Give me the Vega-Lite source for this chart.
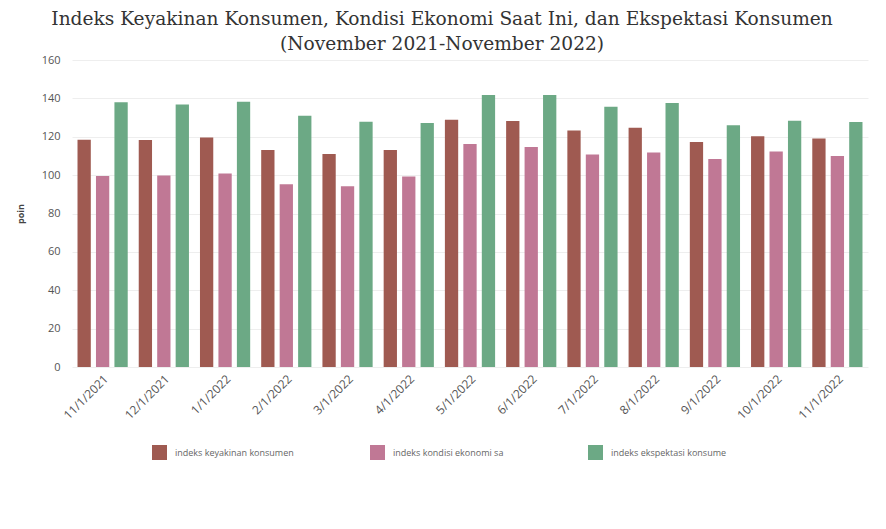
{
  "$schema": "https://vega.github.io/schema/vega-lite/v6.json",
  "width": 796,
  "height": 307,
  "padding": {"left": 16, "right": 10, "top": 10, "bottom": 5},
  "background": "white",
  "title": {
    "text": ["Indeks Keyakinan Konsumen, Kondisi Ekonomi Saat Ini, dan Ekspektasi Konsumen", "(November 2021-November 2022)"],
    "font": "DejaVu Serif",
    "fontSize": 18.6,
    "fontWeight": "normal",
    "color": "#333333",
    "lineHeight": 25,
    "offset": 0,
    "anchor": "middle",
    "frame": "bounds"
  },
  "data": {
    "values": [
      {"bulan": "11/1/2021", "seri": "indeks keyakinan konsumen", "nilai": 118.5},
      {"bulan": "11/1/2021", "seri": "indeks kondisi ekonomi sa", "nilai": 99.5},
      {"bulan": "11/1/2021", "seri": "indeks ekspektasi konsume", "nilai": 138.0},
      {"bulan": "12/1/2021", "seri": "indeks keyakinan konsumen", "nilai": 118.3},
      {"bulan": "12/1/2021", "seri": "indeks kondisi ekonomi sa", "nilai": 99.8},
      {"bulan": "12/1/2021", "seri": "indeks ekspektasi konsume", "nilai": 136.8},
      {"bulan": "1/1/2022", "seri": "indeks keyakinan konsumen", "nilai": 119.6},
      {"bulan": "1/1/2022", "seri": "indeks kondisi ekonomi sa", "nilai": 100.8},
      {"bulan": "1/1/2022", "seri": "indeks ekspektasi konsume", "nilai": 138.3},
      {"bulan": "2/1/2022", "seri": "indeks keyakinan konsumen", "nilai": 113.1},
      {"bulan": "2/1/2022", "seri": "indeks kondisi ekonomi sa", "nilai": 95.3},
      {"bulan": "2/1/2022", "seri": "indeks ekspektasi konsume", "nilai": 130.9},
      {"bulan": "3/1/2022", "seri": "indeks keyakinan konsumen", "nilai": 111.0},
      {"bulan": "3/1/2022", "seri": "indeks kondisi ekonomi sa", "nilai": 94.2},
      {"bulan": "3/1/2022", "seri": "indeks ekspektasi konsume", "nilai": 127.8},
      {"bulan": "4/1/2022", "seri": "indeks keyakinan konsumen", "nilai": 113.1},
      {"bulan": "4/1/2022", "seri": "indeks kondisi ekonomi sa", "nilai": 99.3},
      {"bulan": "4/1/2022", "seri": "indeks ekspektasi konsume", "nilai": 127.2},
      {"bulan": "5/1/2022", "seri": "indeks keyakinan konsumen", "nilai": 128.9},
      {"bulan": "5/1/2022", "seri": "indeks kondisi ekonomi sa", "nilai": 116.2},
      {"bulan": "5/1/2022", "seri": "indeks ekspektasi konsume", "nilai": 141.7},
      {"bulan": "6/1/2022", "seri": "indeks keyakinan konsumen", "nilai": 128.2},
      {"bulan": "6/1/2022", "seri": "indeks kondisi ekonomi sa", "nilai": 114.7},
      {"bulan": "6/1/2022", "seri": "indeks ekspektasi konsume", "nilai": 141.7},
      {"bulan": "7/1/2022", "seri": "indeks keyakinan konsumen", "nilai": 123.2},
      {"bulan": "7/1/2022", "seri": "indeks kondisi ekonomi sa", "nilai": 110.7},
      {"bulan": "7/1/2022", "seri": "indeks ekspektasi konsume", "nilai": 135.7},
      {"bulan": "8/1/2022", "seri": "indeks keyakinan konsumen", "nilai": 124.7},
      {"bulan": "8/1/2022", "seri": "indeks kondisi ekonomi sa", "nilai": 111.8},
      {"bulan": "8/1/2022", "seri": "indeks ekspektasi konsume", "nilai": 137.6},
      {"bulan": "9/1/2022", "seri": "indeks keyakinan konsumen", "nilai": 117.2},
      {"bulan": "9/1/2022", "seri": "indeks kondisi ekonomi sa", "nilai": 108.4},
      {"bulan": "9/1/2022", "seri": "indeks ekspektasi konsume", "nilai": 126.0},
      {"bulan": "10/1/2022", "seri": "indeks keyakinan konsumen", "nilai": 120.3},
      {"bulan": "10/1/2022", "seri": "indeks kondisi ekonomi sa", "nilai": 112.3},
      {"bulan": "10/1/2022", "seri": "indeks ekspektasi konsume", "nilai": 128.4},
      {"bulan": "11/1/2022", "seri": "indeks keyakinan konsumen", "nilai": 119.1},
      {"bulan": "11/1/2022", "seri": "indeks kondisi ekonomi sa", "nilai": 110.0},
      {"bulan": "11/1/2022", "seri": "indeks ekspektasi konsume", "nilai": 127.7}
    ]
  },
  "mark": {"type": "bar"},
  "encoding": {
    "x": {
      "field": "bulan",
      "type": "nominal",
      "sort": null,
      "scale": {"paddingInner": 0.18, "paddingOuter": 0.09},
      "axis": {
        "title": null,
        "labelAngle": -45,
        "labelFont": "Open Sans",
        "labelFontSize": 12,
        "labelColor": "#555555",
        "ticks": false,
        "domain": false,
        "labelPadding": 6
      }
    },
    "xOffset": {
      "field": "seri",
      "type": "nominal",
      "sort": ["indeks keyakinan konsumen", "indeks kondisi ekonomi sa", "indeks ekspektasi konsume"],
      "scale": {"paddingInner": 0.28, "paddingOuter": 0}
    },
    "y": {
      "field": "nilai",
      "type": "quantitative",
      "scale": {"domain": [0, 160]},
      "axis": {
        "title": "poin",
        "titleFont": "Open Sans",
        "titleFontSize": 9,
        "titleFontWeight": "bold",
        "titleColor": "#444444",
        "titlePadding": 16,
        "values": [0, 20, 40, 60, 80, 100, 120, 140, 160],
        "labelFont": "Open Sans",
        "labelFontSize": 11,
        "labelColor": "#555555",
        "labelPadding": 12,
        "ticks": false,
        "domain": false,
        "gridColor": "#eeeeee"
      }
    },
    "color": {
      "field": "seri",
      "type": "nominal",
      "sort": ["indeks keyakinan konsumen", "indeks kondisi ekonomi sa", "indeks ekspektasi konsume"],
      "scale": {
        "domain": ["indeks keyakinan konsumen", "indeks kondisi ekonomi sa", "indeks ekspektasi konsume"],
        "range": ["#9f5a51", "#c07895", "#6ca985"]
      },
      "legend": {
        "title": null,
        "orient": "none",
        "legendX": 80,
        "legendY": 385,
        "direction": "horizontal",
        "columns": 3,
        "gridAlign": "all",
        "columnPadding": 76,
        "symbolType": "square",
        "symbolSize": 225,
        "symbolStrokeWidth": 0,
        "labelFont": "Open Sans",
        "labelFontSize": 9,
        "labelColor": "#666666",
        "labelOffset": 8
      }
    }
  },
  "config": {
    "view": {"stroke": null}
  }
}
